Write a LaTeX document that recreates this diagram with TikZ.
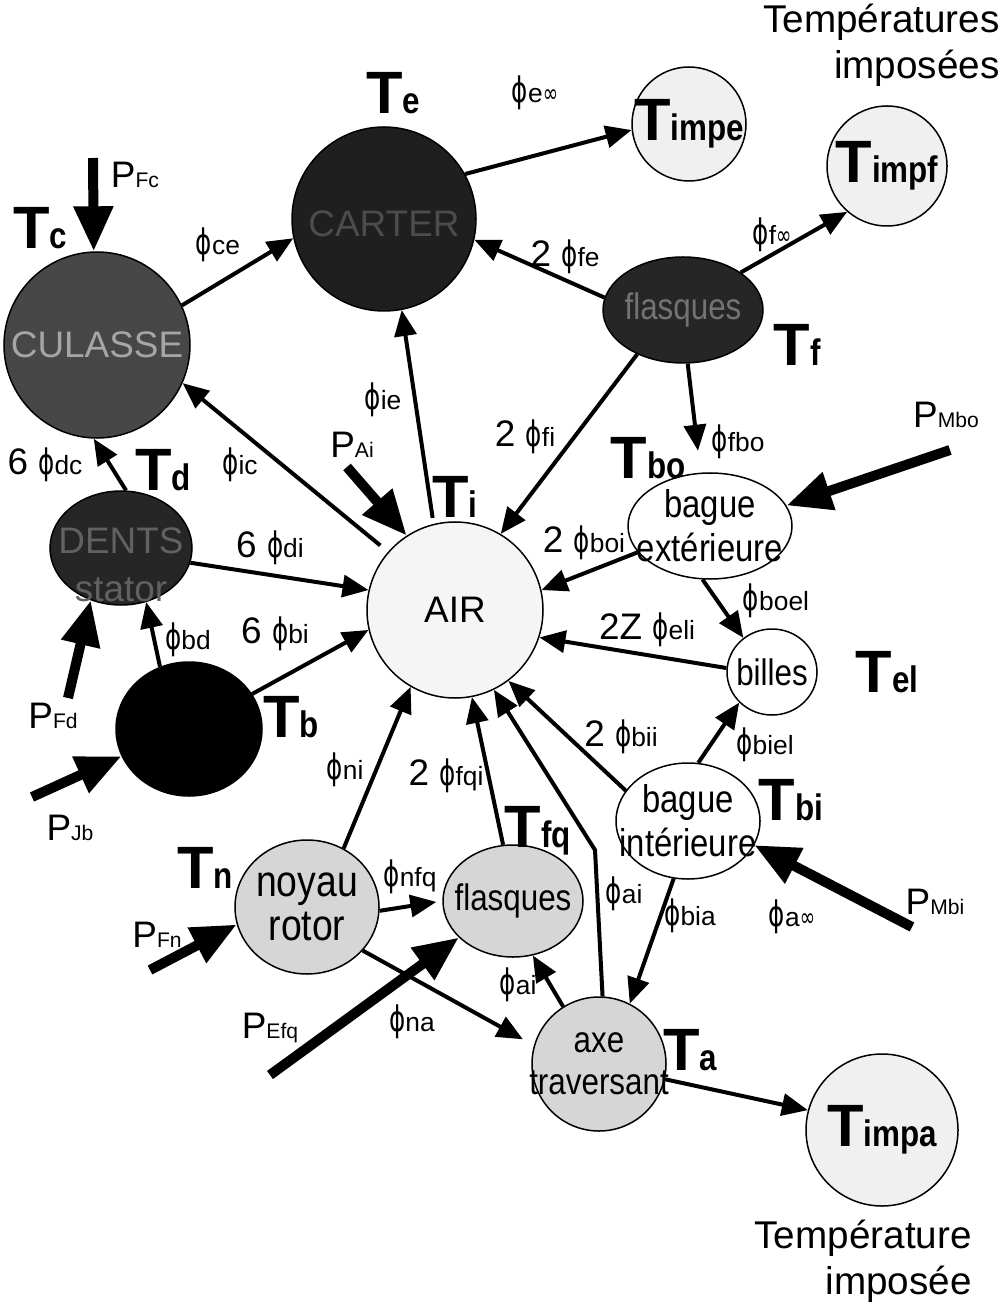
\documentclass[tikz,border=0pt]{standalone}
\usepackage{fontspec}
\setmainfont{Liberation Sans}
\newfontfamily\narrowfont[FakeStretch=0.85]{Liberation Sans}
\newfontfamily\phifont[FakeStretch=0.7]{DejaVu Sans}
\usetikzlibrary{positioning,shapes.geometric,arrows.meta}

\newcommand{\tlab}[1]{{\fontsize{34}{34}\selectfont\bfseries T}{\narrowfont\fontsize{21}{21}\selectfont\bfseries #1}}
\newcommand{\plab}[1]{{\fontsize{21}{21}\selectfont P}{\fontsize{12}{12}\selectfont #1}}
\newcommand{\flab}[1]{{\phifont\fontsize{20}{20}\selectfont ϕ}{\fontsize{15}{15}\selectfont #1}}
\newcommand{\mult}[1]{{\fontsize{21}{21}\selectfont #1\ }}

\begin{document}
\begin{tikzpicture}[x=0.2mm, y=-0.2mm,
  every node/.style={inner sep=0pt},
  dark/.style={ellipse, draw, line width=0.3mm, fill=black!85},
  light/.style={ellipse, draw, line width=0.3mm, fill=black!6},
  rotor/.style={ellipse, draw, line width=0.3mm, fill=black!16},
  bare/.style={ellipse, draw, line width=0.3mm, fill=white},
  intext/.style={font=\narrowfont\fontsize{21}{23}\selectfont, align=center},
  flux/.style={-{Triangle[length=5.2mm,width=4.4mm]}, line width=0.8mm},
  source/.style={-{Triangle[length=9mm,width=7.5mm]}, line width=2mm}]
  \useasboundingbox (0,0) rectangle (1005,1307);
  % stator side
  \node[dark, fill=black!72, minimum width=37.2mm, minimum height=37.2mm] (cul) at (97,345) {};
  \node[dark, fill=black!88, minimum width=36.8mm, minimum height=36.8mm] (car) at (384,219) {};
  \node[dark, minimum width=32mm, minimum height=21.2mm] (fl) at (683,310) {};
  \node[dark, minimum width=28.4mm, minimum height=22.8mm] (dents) at (121,548) {};
  \node[dark, fill=black, minimum width=29.2mm, minimum height=26.8mm] (bob) at (189,729) {};
  \node[intext, text=black!35, font=\fontsize{21}{23}\selectfont] (cult) at (cul) {CULASSE};
  \node[intext, text=black!70, font=\fontsize{21}{23}\selectfont] (cart) at (384,224) {CARTER};
  \node[intext, text=black!55] (flt) at (fl) {flasques};
  \node[intext, text=black!62, font=\fontsize{21}{27}\selectfont] (dentst) at (121,565) {DENTS\\stator};
  % air and bearing
  \node[light, fill=black!4, minimum width=35.2mm, minimum height=35.2mm] (air) at (455,610) {};
  \node[bare, minimum width=32.8mm, minimum height=21.2mm] (bext) at (710,526) {};
  \node[bare, minimum width=18mm, minimum height=17.2mm] (bil) at (772,672) {};
  \node[bare, minimum width=28.8mm, minimum height=23.2mm] (bint) at (688,821) {};
  \node[intext, font=\fontsize{21}{23}\selectfont] (airt) at (air) {AIR};
  \node[intext, font=\narrowfont\fontsize{22}{25}\selectfont] (bextt) at (bext) {bague\\extérieure};
  \node[intext] (bilt) at (bil) {billes};
  \node[intext, font=\narrowfont\fontsize{22}{25}\selectfont] (bintt) at (bint) {bague\\intérieure};
  % rotor
  \node[rotor, minimum width=28.8mm, minimum height=26.8mm] (noy) at (307,907) {};
  \node[rotor, minimum width=28mm, minimum height=22.4mm] (flq) at (513,901) {};
  \node[rotor, minimum width=26.8mm, minimum height=26.8mm] (axe) at (599,1064) {};
  \node[intext, font=\narrowfont\fontsize{25}{25}\selectfont] (noyt) at (noy) {noyau\\rotor};
  \node[intext] (flqt) at (flq) {flasques};
  \node[intext, font=\narrowfont\fontsize{21}{24}\selectfont] (axet) at (axe) {axe\\traversant};
  % imposed temperatures
  \node[light, minimum width=22.8mm, minimum height=22.8mm] (timpe) at (689,124) {};
  \node[light, minimum width=24mm, minimum height=24mm] (timpf) at (887,166) {};
  \node[light, minimum width=30.4mm, minimum height=30.4mm] (timpa) at (882,1130) {};
  \node (timpet) at (timpe) {\tlab{impe}};
  \node (timpft) at (timpf) {\tlab{impf}};
  \node (timpat) at (timpa) {\tlab{impa}};
  \node[align=right, anchor=north east, font=\fontsize{22}{26}\selectfont] (titf) at (1000,4) {Températures\\imposées};
  \node[align=right, anchor=south east, font=\fontsize{22}{26}\selectfont] (tita) at (972,1303) {Température\\imposée};
  % node temperatures
  \node (lte) at (393,93) {\tlab{e}};
  \node (ltc) at (40,228) {\tlab{c}};
  \node (ltf) at (797,345) {\tlab{f}};
  \node (ltbo) at (648,458) {\tlab{bo}};
  \node (lti) at (455,497) {\tlab{i}};
  \node (ltd) at (163,470) {\tlab{d}};
  \node (ltel) at (887,672) {\tlab{el}};
  \node (ltb) at (291,717) {\tlab{b}};
  \node (ltbi) at (791,800) {\tlab{bi}};
  \node (ltfq) at (538,831) {\tlab{fq}};
  \node (ltn) at (205,868) {\tlab{n}};
  \node (lta) at (690,1050) {\tlab{a}};
  % heat sources
  \node (lpfc) at (135,175) {\plab{Fc}};
  \node (lpai) at (352,445) {\plab{Ai}};
  \node (lpmbo) at (946,415) {\plab{Mbo}};
  \node (lpfd) at (53,716) {\plab{Fd}};
  \node (lpjb) at (70,828) {\plab{Jb}};
  \node (lpfn) at (157,935) {\plab{Fn}};
  \node (lpefq) at (270,1028) {\plab{Efq}};
  \node (lpmbi) at (935,902) {\plab{Mbi}};
  % fluxes
  \node (lce) at (218,245) {\flab{ce}};
  \node (leinf) at (535,93) {\flab{e{\phifont ∞}}};
  \node (lfe) at (565,257) {\mult{2}\flab{fe}};
  \node (lfinf) at (772,235) {\flab{f{\phifont ∞}}};
  \node (lie) at (383,400) {\flab{ie}};
  \node (lfi) at (525,437) {\mult{2}\flab{fi}};
  \node (lfbo) at (738,442) {\flab{fbo}};
  \node (lic) at (240,465) {\flab{ic}};
  \node (ldc) at (45,465) {\mult{6}\flab{dc}};
  \node (ldi) at (270,548) {\mult{6}\flab{di}};
  \node (lboi) at (584,543) {\mult{2}\flab{boi}};
  \node (lboel) at (776,601) {\flab{boel}};
  \node (leli) at (647,630) {\mult{2Z}\flab{eli}};
  \node (lbi) at (275,634) {\mult{6}\flab{bi}};
  \node (lbd) at (188,640) {\flab{bd}};
  \node (lbii) at (621,737) {\mult{2}\flab{bii}};
  \node (lbiel) at (765,745) {\flab{biel}};
  \node (lni) at (345,770) {\flab{ni}};
  \node (lfqi) at (446,776) {\mult{2}\flab{fqi}};
  \node (lnfq) at (410,877) {\flab{nfq}};
  \node (lai) at (624,894) {\flab{ai}};
  \node (lbia) at (690,916) {\flab{bia}};
  \node (lainf) at (792,917) {\flab{a{\phifont ∞}}};
  \node (lai2) at (518,985) {\flab{ai}};
  \node (lna) at (412,1022) {\flab{na}};
  % conduction / convection links
  \draw[flux] (cul.25) -- (car.192);
  \draw[flux] (car.29) -- (timpe.186);
  \draw[flux] (fl.171) -- (car.347);
  \draw[flux] (fl.33) -- (timpf.229);
  \draw[flux] (fl.224) -- (air.59);
  \draw[flux, shorten >=4.4mm] (fl.275) -- (bext.100);
  \draw[flux, shorten <=1.2mm] (air.104) -- (car.281);
  \draw[flux, shorten <=2mm] (air.139) -- (cul.336);
  \draw[flux] (dents.85) -- (cul.268);
  \draw[flux] (dents.348) -- (air.167);
  \draw[flux] (bob.115) -- (dents.295);
  \draw[flux] (bob.29) -- (air.193);
  \draw[flux] (bext.200) -- (air.13);
  \draw[flux] (bext.262) -- (bil.130);
  \draw[flux] (bil.175) -- (air.342);
  \draw[flux] (bint.80) -- (bil.223);
  \draw[flux] (bint.154) -- (air.307);
  \draw[flux] (bint.256) -- (axe.63);
  \coordinate (bend) at (595,850);
  \draw[flux] (axe.87) -- (bend) -- (air.296);
  \draw[flux] (flq.100) -- (air.281);
  \draw[flux] (noy.58) -- (air.240);
  \draw[flux, shorten >=1.2mm] (noy.357) -- (flq.180);
  \draw[flux, shorten >=2.5mm] (noy.322) -- (axe.164);
  \draw[flux] (axe.122) -- (flq.290);
  \draw[flux] (axe.347) -- (timpa.165);
  % injected losses
  \coordinate (pfc) at (93,158);
  \coordinate (pai) at (347,467);
  \coordinate (pmbo) at (950,450);
  \coordinate (pfd) at (68,698);
  \coordinate (pjb) at (32,797);
  \coordinate (pfn) at (150,970);
  \coordinate (pefq) at (270,1075);
  \coordinate (pmbi) at (912,927);
  \draw[source] (pfc) -- (cul.92);
  \draw[source] (pai) -- (air.123);
  \draw[source] (pmbo) -- (bext.15);
  \draw[source] (pfd) -- (dents.240);
  \draw[source] (pjb) -- (bob.202);
  \draw[source] (pfn) -- (noy.194);
  \draw[source] (pefq) -- (flq.214);
  \draw[source] (pmbi) -- (bint.340);
\end{tikzpicture}
\end{document}
